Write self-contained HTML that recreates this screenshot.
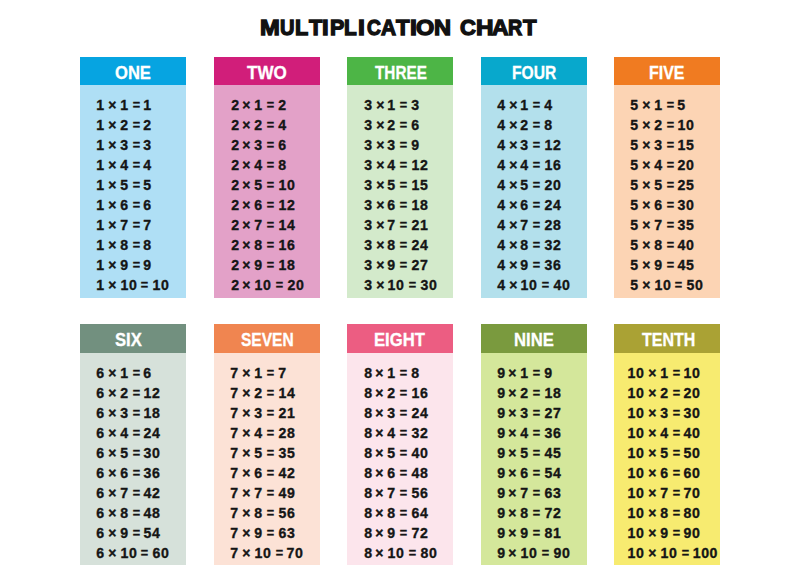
<!DOCTYPE html>
<html><head><meta charset="utf-8"><style>
*{margin:0;padding:0;box-sizing:border-box}
html,body{width:800px;height:585px;background:#fff;overflow:hidden}
body{position:relative;font-family:"Liberation Sans",sans-serif}
.title{position:absolute;left:0;top:15.6px;width:800px;height:30px}
.title span{position:absolute;top:0;font-weight:bold;font-size:21.5px;color:#111;-webkit-text-stroke:1.3px #111;transform-origin:0 0;white-space:nowrap}
.col{position:absolute;width:106px}
.hd{position:relative;height:28.8px;color:#fff;font-weight:bold;font-size:18px;line-height:32.5px;-webkit-text-stroke:0.3px #fff;white-space:nowrap}
.hd span{position:absolute;left:0;top:0;transform-origin:0 0}
.bd{height:212.5px}
.bd div{font-weight:bold;font-size:15px;line-height:20px;color:#151515;white-space:nowrap;-webkit-text-stroke:0.35px #151515;letter-spacing:0.6px;word-spacing:-1.39px}
.bd i{font-style:normal;letter-spacing:0;display:inline-block;transform:scaleX(0.84);margin:0 -0.45px}
.bd em{font-style:normal;display:inline-block;transform:scaleX(0.94)}
.bd b{letter-spacing:0;display:inline-block;transform:scaleX(0.93);margin:0 -0.45px}
</style></head><body>
<div class="title"><span style="left:259.59px;transform:scaleX(1.1048)">M</span><span style="left:279.67px;transform:scaleX(0.9318)">U</span><span style="left:294.98px;transform:scaleX(1.0081)">L</span><span style="left:308.58px;transform:scaleX(1.0089)">T</span><span style="left:322.39px;transform:scaleX(1.1063)">I</span><span style="left:329.89px;transform:scaleX(1.0021)">P</span><span style="left:344.32px;transform:scaleX(0.9671)">L</span><span style="left:358.05px;transform:scaleX(1.1534)">I</span><span style="left:366.59px;transform:scaleX(0.8920)">C</span><span style="left:380.79px;transform:scaleX(0.9690)">A</span><span style="left:396.19px;transform:scaleX(1.0304)">T</span><span style="left:410.25px;transform:scaleX(1.1534)">I</span><span style="left:416.44px;transform:scaleX(1.0921)">O</span><span style="left:434.40px;transform:scaleX(1.0969)">N</span><span style="left:459.66px;transform:scaleX(1.0213)">C</span><span style="left:475.57px;transform:scaleX(1.1256)">H</span><span style="left:491.89px;transform:scaleX(1.0653)">A</span><span style="left:508.07px;transform:scaleX(0.9150)">R</span><span style="left:522.79px;transform:scaleX(1.0304)">T</span></div>
<div class="col" style="left:80px;top:56.6px"><div class="hd" style="background:#06a4e1"><span style="left:35.28px;transform:scaleX(0.9211)">ONE</span></div><div class="bd" style="background:#afdff5;padding-left:16.0px;padding-top:9.9px"><div><em>1</em> <b>×</b> <em>1</em> <i>=</i> <em>1</em></div><div><em>1</em> <b>×</b> <em>2</em> <i>=</i> <em>2</em></div><div><em>1</em> <b>×</b> <em>3</em> <i>=</i> <em>3</em></div><div><em>1</em> <b>×</b> <em>4</em> <i>=</i> <em>4</em></div><div><em>1</em> <b>×</b> <em>5</em> <i>=</i> <em>5</em></div><div><em>1</em> <b>×</b> <em>6</em> <i>=</i> <em>6</em></div><div><em>1</em> <b>×</b> <em>7</em> <i>=</i> <em>7</em></div><div><em>1</em> <b>×</b> <em>8</em> <i>=</i> <em>8</em></div><div><em>1</em> <b>×</b> <em>9</em> <i>=</i> <em>9</em></div><div><em>1</em> <b>×</b> <em>10</em> <i>=</i> <em>10</em></div></div></div>
<div class="col" style="left:213.5px;top:56.6px"><div class="hd" style="background:#d11e7a"><span style="left:33.90px;transform:scaleX(0.9476)">TWO</span></div><div class="bd" style="background:#e3a1c8;padding-left:17.0px;padding-top:9.9px"><div><em>2</em> <b>×</b> <em>1</em> <i>=</i> <em>2</em></div><div><em>2</em> <b>×</b> <em>2</em> <i>=</i> <em>4</em></div><div><em>2</em> <b>×</b> <em>3</em> <i>=</i> <em>6</em></div><div><em>2</em> <b>×</b> <em>4</em> <i>=</i> <em>8</em></div><div><em>2</em> <b>×</b> <em>5</em> <i>=</i> <em>10</em></div><div><em>2</em> <b>×</b> <em>6</em> <i>=</i> <em>12</em></div><div><em>2</em> <b>×</b> <em>7</em> <i>=</i> <em>14</em></div><div><em>2</em> <b>×</b> <em>8</em> <i>=</i> <em>16</em></div><div><em>2</em> <b>×</b> <em>9</em> <i>=</i> <em>18</em></div><div><em>2</em> <b>×</b> <em>10</em> <i>=</i> <em>20</em></div></div></div>
<div class="col" style="left:347px;top:56.6px"><div class="hd" style="background:#4db546"><span style="left:28.00px;transform:scaleX(0.8500)">THREE</span></div><div class="bd" style="background:#d3eacb;padding-left:16.8px;padding-top:9.9px"><div><em>3</em> <b>×</b> <em>1</em> <i>=</i> <em>3</em></div><div><em>3</em> <b>×</b> <em>2</em> <i>=</i> <em>6</em></div><div><em>3</em> <b>×</b> <em>3</em> <i>=</i> <em>9</em></div><div><em>3</em> <b>×</b> <em>4</em> <i>=</i> <em>12</em></div><div><em>3</em> <b>×</b> <em>5</em> <i>=</i> <em>15</em></div><div><em>3</em> <b>×</b> <em>6</em> <i>=</i> <em>18</em></div><div><em>3</em> <b>×</b> <em>7</em> <i>=</i> <em>21</em></div><div><em>3</em> <b>×</b> <em>8</em> <i>=</i> <em>24</em></div><div><em>3</em> <b>×</b> <em>9</em> <i>=</i> <em>27</em></div><div><em>3</em> <b>×</b> <em>10</em> <i>=</i> <em>30</em></div></div></div>
<div class="col" style="left:480.5px;top:56.6px"><div class="hd" style="background:#08a8cc"><span style="left:31.30px;transform:scaleX(0.8667)">FOUR</span></div><div class="bd" style="background:#b3e0ec;padding-left:16.3px;padding-top:9.9px"><div><em>4</em> <b>×</b> <em>1</em> <i>=</i> <em>4</em></div><div><em>4</em> <b>×</b> <em>2</em> <i>=</i> <em>8</em></div><div><em>4</em> <b>×</b> <em>3</em> <i>=</i> <em>12</em></div><div><em>4</em> <b>×</b> <em>4</em> <i>=</i> <em>16</em></div><div><em>4</em> <b>×</b> <em>5</em> <i>=</i> <em>20</em></div><div><em>4</em> <b>×</b> <em>6</em> <i>=</i> <em>24</em></div><div><em>4</em> <b>×</b> <em>7</em> <i>=</i> <em>28</em></div><div><em>4</em> <b>×</b> <em>8</em> <i>=</i> <em>32</em></div><div><em>4</em> <b>×</b> <em>9</em> <i>=</i> <em>36</em></div><div><em>4</em> <b>×</b> <em>10</em> <i>=</i> <em>40</em></div></div></div>
<div class="col" style="left:614px;top:56.6px"><div class="hd" style="background:#f07b21"><span style="left:35.41px;transform:scaleX(0.8868)">FIVE</span></div><div class="bd" style="background:#fcd4b4;padding-left:16.0px;padding-top:9.9px"><div><em>5</em> <b>×</b> <em>1</em> <i>=</i> <em>5</em></div><div><em>5</em> <b>×</b> <em>2</em> <i>=</i> <em>10</em></div><div><em>5</em> <b>×</b> <em>3</em> <i>=</i> <em>15</em></div><div><em>5</em> <b>×</b> <em>4</em> <i>=</i> <em>20</em></div><div><em>5</em> <b>×</b> <em>5</em> <i>=</i> <em>25</em></div><div><em>5</em> <b>×</b> <em>6</em> <i>=</i> <em>30</em></div><div><em>5</em> <b>×</b> <em>7</em> <i>=</i> <em>35</em></div><div><em>5</em> <b>×</b> <em>8</em> <i>=</i> <em>40</em></div><div><em>5</em> <b>×</b> <em>9</em> <i>=</i> <em>45</em></div><div><em>5</em> <b>×</b> <em>10</em> <i>=</i> <em>50</em></div></div></div>
<div class="col" style="left:80px;top:323.9px"><div class="hd" style="background:#72907f"><span style="left:34.83px;transform:scaleX(0.9241)">SIX</span></div><div class="bd" style="background:#d6e1da;padding-left:16.0px;padding-top:10.7px"><div><em>6</em> <b>×</b> <em>1</em> <i>=</i> <em>6</em></div><div><em>6</em> <b>×</b> <em>2</em> <i>=</i> <em>12</em></div><div><em>6</em> <b>×</b> <em>3</em> <i>=</i> <em>18</em></div><div><em>6</em> <b>×</b> <em>4</em> <i>=</i> <em>24</em></div><div><em>6</em> <b>×</b> <em>5</em> <i>=</i> <em>30</em></div><div><em>6</em> <b>×</b> <em>6</em> <i>=</i> <em>36</em></div><div><em>6</em> <b>×</b> <em>7</em> <i>=</i> <em>42</em></div><div><em>6</em> <b>×</b> <em>8</em> <i>=</i> <em>48</em></div><div><em>6</em> <b>×</b> <em>9</em> <i>=</i> <em>54</em></div><div><em>6</em> <b>×</b> <em>10</em> <i>=</i> <em>60</em></div></div></div>
<div class="col" style="left:213.5px;top:323.9px"><div class="hd" style="background:#f08550"><span style="left:27.20px;transform:scaleX(0.8633)">SEVEN</span></div><div class="bd" style="background:#fce2d6;padding-left:16.8px;padding-top:10.7px"><div><em>7</em> <b>×</b> <em>1</em> <i>=</i> <em>7</em></div><div><em>7</em> <b>×</b> <em>2</em> <i>=</i> <em>14</em></div><div><em>7</em> <b>×</b> <em>3</em> <i>=</i> <em>21</em></div><div><em>7</em> <b>×</b> <em>4</em> <i>=</i> <em>28</em></div><div><em>7</em> <b>×</b> <em>5</em> <i>=</i> <em>35</em></div><div><em>7</em> <b>×</b> <em>6</em> <i>=</i> <em>42</em></div><div><em>7</em> <b>×</b> <em>7</em> <i>=</i> <em>49</em></div><div><em>7</em> <b>×</b> <em>8</em> <i>=</i> <em>56</em></div><div><em>7</em> <b>×</b> <em>9</em> <i>=</i> <em>63</em></div><div><em>7</em> <b>×</b> <em>10</em> <i>=</i> <em>70</em></div></div></div>
<div class="col" style="left:347px;top:323.9px"><div class="hd" style="background:#ec5d82"><span style="left:27.17px;transform:scaleX(0.9259)">EIGHT</span></div><div class="bd" style="background:#fce5ec;padding-left:16.5px;padding-top:10.7px"><div><em>8</em> <b>×</b> <em>1</em> <i>=</i> <em>8</em></div><div><em>8</em> <b>×</b> <em>2</em> <i>=</i> <em>16</em></div><div><em>8</em> <b>×</b> <em>3</em> <i>=</i> <em>24</em></div><div><em>8</em> <b>×</b> <em>4</em> <i>=</i> <em>32</em></div><div><em>8</em> <b>×</b> <em>5</em> <i>=</i> <em>40</em></div><div><em>8</em> <b>×</b> <em>6</em> <i>=</i> <em>48</em></div><div><em>8</em> <b>×</b> <em>7</em> <i>=</i> <em>56</em></div><div><em>8</em> <b>×</b> <em>8</em> <i>=</i> <em>64</em></div><div><em>8</em> <b>×</b> <em>9</em> <i>=</i> <em>72</em></div><div><em>8</em> <b>×</b> <em>10</em> <i>=</i> <em>80</em></div></div></div>
<div class="col" style="left:480.5px;top:323.9px"><div class="hd" style="background:#7a9a3e"><span style="left:33.40px;transform:scaleX(0.9279)">NINE</span></div><div class="bd" style="background:#d4e79b;padding-left:16.0px;padding-top:10.7px"><div><em>9</em> <b>×</b> <em>1</em> <i>=</i> <em>9</em></div><div><em>9</em> <b>×</b> <em>2</em> <i>=</i> <em>18</em></div><div><em>9</em> <b>×</b> <em>3</em> <i>=</i> <em>27</em></div><div><em>9</em> <b>×</b> <em>4</em> <i>=</i> <em>36</em></div><div><em>9</em> <b>×</b> <em>5</em> <i>=</i> <em>45</em></div><div><em>9</em> <b>×</b> <em>6</em> <i>=</i> <em>54</em></div><div><em>9</em> <b>×</b> <em>7</em> <i>=</i> <em>63</em></div><div><em>9</em> <b>×</b> <em>8</em> <i>=</i> <em>72</em></div><div><em>9</em> <b>×</b> <em>9</em> <i>=</i> <em>81</em></div><div><em>9</em> <b>×</b> <em>10</em> <i>=</i> <em>90</em></div></div></div>
<div class="col" style="left:614px;top:323.9px"><div class="hd" style="background:#aaa234"><span style="left:28.00px;transform:scaleX(0.8898)">TENTH</span></div><div class="bd" style="background:#f7eb70;padding-left:13.2px;padding-top:10.7px"><div><em>10</em> <b>×</b> <em>1</em> <i>=</i> <em>10</em></div><div><em>10</em> <b>×</b> <em>2</em> <i>=</i> <em>20</em></div><div><em>10</em> <b>×</b> <em>3</em> <i>=</i> <em>30</em></div><div><em>10</em> <b>×</b> <em>4</em> <i>=</i> <em>40</em></div><div><em>10</em> <b>×</b> <em>5</em> <i>=</i> <em>50</em></div><div><em>10</em> <b>×</b> <em>6</em> <i>=</i> <em>60</em></div><div><em>10</em> <b>×</b> <em>7</em> <i>=</i> <em>70</em></div><div><em>10</em> <b>×</b> <em>8</em> <i>=</i> <em>80</em></div><div><em>10</em> <b>×</b> <em>9</em> <i>=</i> <em>90</em></div><div><em>10</em> <b>×</b> <em>10</em> <i>=</i> <em>100</em></div></div></div>
</body></html>
